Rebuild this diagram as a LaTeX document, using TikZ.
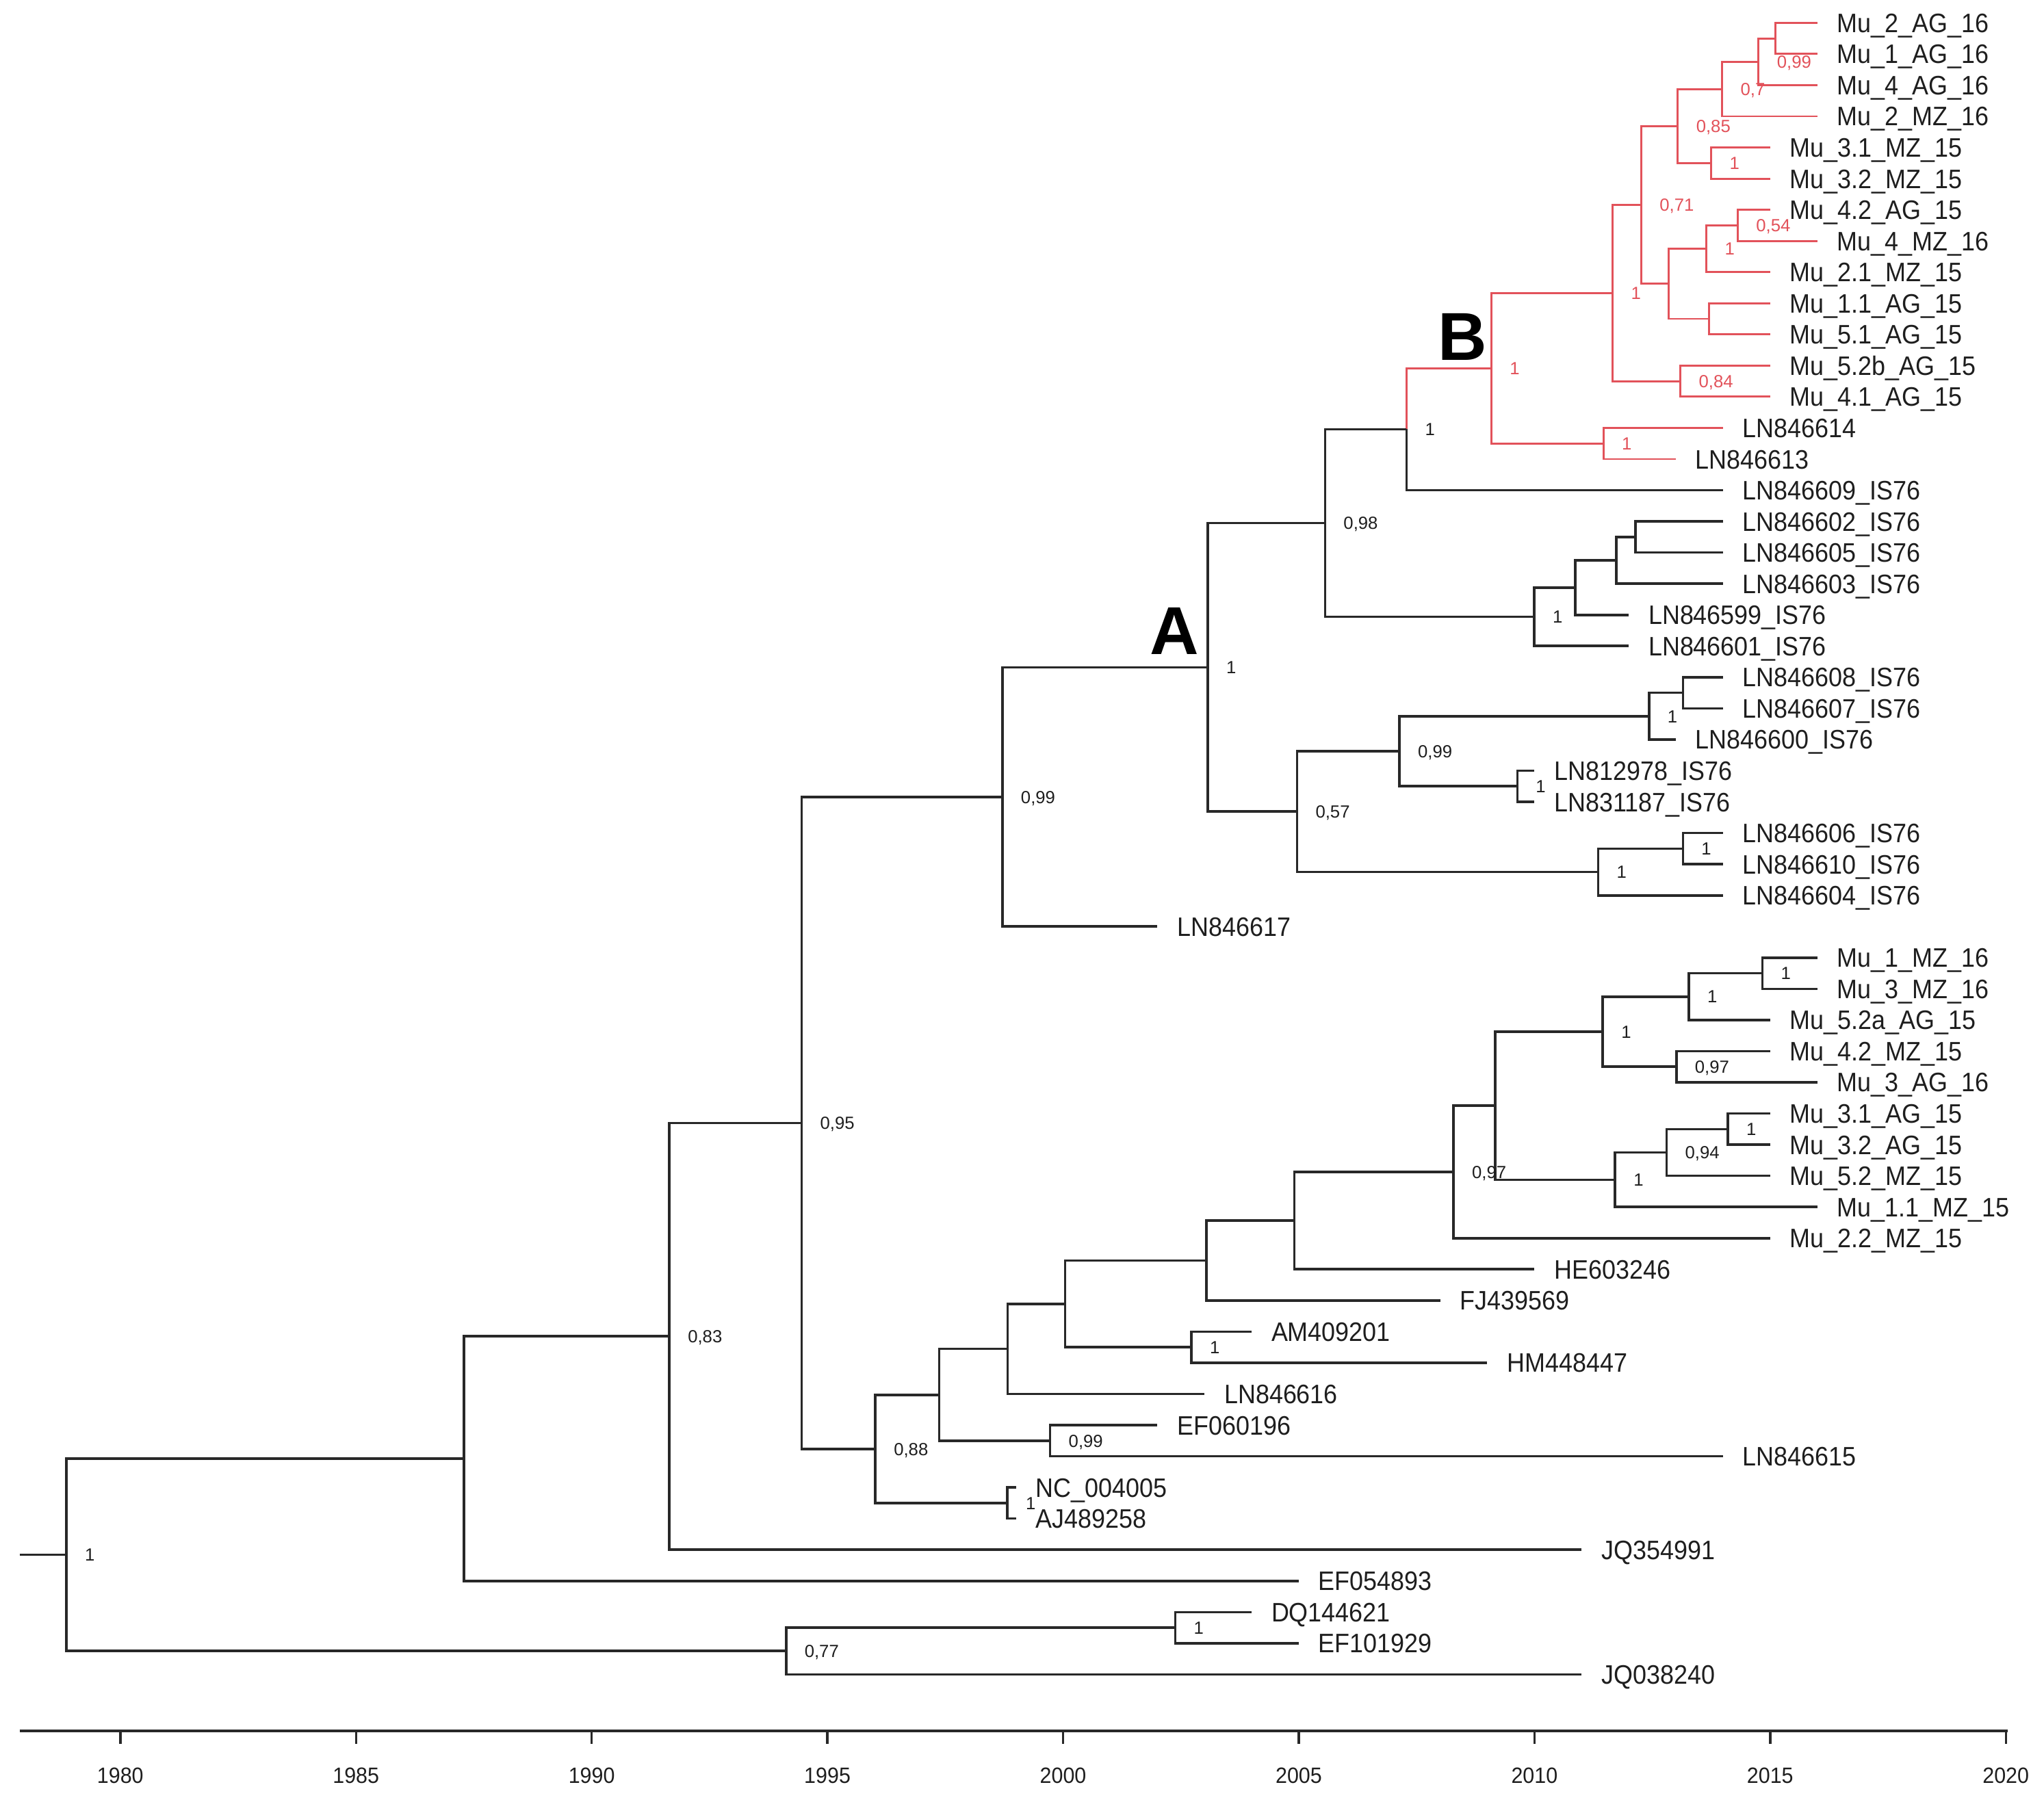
\documentclass[tikz,border=0pt]{standalone}
\usepackage{fontspec}
\setmainfont{Liberation Sans}
\newfontfamily\labfont{Liberation Sans}[FakeStretch=0.92]
\newfontfamily\yearfont{Liberation Sans}[FakeStretch=0.94]
\usetikzlibrary{calc}
\definecolor{redc}{RGB}{226,82,90}
\definecolor{txt}{RGB}{30,30,30}
\definecolor{lin}{RGB}{40,40,40}
\newcommand\yr[1]{92.3+36.16*(#1-1980)}
\newcommand\ry[1]{17.5+23.91*#1}
\newcommand\inode[4]{\path let \p1=($(#3)!0.5!(#4)$) in coordinate (#1) at (#2pt,\y1);}
\begin{document}
\begin{tikzpicture}[x=1pt,y=-1pt,
  edge/.style={draw=lin,line width=1.9pt},
  redge/.style={draw=redc,line width=1.5pt},
  tiplab/.style={anchor=west,inner sep=0pt,xshift=15pt,text height=14.7pt,text depth=0pt,font=\labfont\fontsize{20.5}{21}\selectfont,text=txt},
  suplab/.style={anchor=west,inner sep=0pt,xshift=14pt,text height=9.7pt,text depth=0pt,font=\fontsize{13.5}{14}\selectfont,text=txt},
  rsuplab/.style={suplab,text=redc},
  biglab/.style={anchor=base,inner sep=0pt,font=\fontsize{52}{52}\selectfont\bfseries,text=black},
  yearlab/.style={anchor=center,inner sep=0pt,text height=12.2pt,text depth=0pt,font=\yearfont\fontsize{17}{18}\selectfont,text=txt},
  axisline/.style={draw=lin,line width=2.4pt},
  tickline/.style={draw=lin,line width=1.8pt}]
\useasboundingbox (0,0) rectangle (1568,1381);
% ---------- tips ----------
\coordinate (t0) at ({\yr{2016}},{\ry{0}});   \node[tiplab] (l0) at (t0) {Mu\_2\_AG\_16};
\coordinate (t1) at ({\yr{2016}},{\ry{1}});   \node[tiplab] (l1) at (t1) {Mu\_1\_AG\_16};
\coordinate (t2) at ({\yr{2016}},{\ry{2}});   \node[tiplab] (l2) at (t2) {Mu\_4\_AG\_16};
\coordinate (t3) at ({\yr{2016}},{\ry{3}});   \node[tiplab] (l3) at (t3) {Mu\_2\_MZ\_16};
\coordinate (t4) at ({\yr{2015}},{\ry{4}});   \node[tiplab] (l4) at (t4) {Mu\_3.1\_MZ\_15};
\coordinate (t5) at ({\yr{2015}},{\ry{5}});   \node[tiplab] (l5) at (t5) {Mu\_3.2\_MZ\_15};
\coordinate (t6) at ({\yr{2015}},{\ry{6}});   \node[tiplab] (l6) at (t6) {Mu\_4.2\_AG\_15};
\coordinate (t7) at ({\yr{2016}},{\ry{7}});   \node[tiplab] (l7) at (t7) {Mu\_4\_MZ\_16};
\coordinate (t8) at ({\yr{2015}},{\ry{8}});   \node[tiplab] (l8) at (t8) {Mu\_2.1\_MZ\_15};
\coordinate (t9) at ({\yr{2015}},{\ry{9}});   \node[tiplab] (l9) at (t9) {Mu\_1.1\_AG\_15};
\coordinate (t10) at ({\yr{2015}},{\ry{10}}); \node[tiplab] (l10) at (t10) {Mu\_5.1\_AG\_15};
\coordinate (t11) at ({\yr{2015}},{\ry{11}}); \node[tiplab] (l11) at (t11) {Mu\_5.2b\_AG\_15};
\coordinate (t12) at ({\yr{2015}},{\ry{12}}); \node[tiplab] (l12) at (t12) {Mu\_4.1\_AG\_15};
\coordinate (t13) at ({\yr{2014}},{\ry{13}}); \node[tiplab] (l13) at (t13) {LN846614};
\coordinate (t14) at ({\yr{2013}},{\ry{14}}); \node[tiplab] (l14) at (t14) {LN846613};
\coordinate (t15) at ({\yr{2014}},{\ry{15}}); \node[tiplab] (l15) at (t15) {LN846609\_IS76};
\coordinate (t16) at ({\yr{2014}},{\ry{16}}); \node[tiplab] (l16) at (t16) {LN846602\_IS76};
\coordinate (t17) at ({\yr{2014}},{\ry{17}}); \node[tiplab] (l17) at (t17) {LN846605\_IS76};
\coordinate (t18) at ({\yr{2014}},{\ry{18}}); \node[tiplab] (l18) at (t18) {LN846603\_IS76};
\coordinate (t19) at ({\yr{2012}},{\ry{19}}); \node[tiplab] (l19) at (t19) {LN846599\_IS76};
\coordinate (t20) at ({\yr{2012}},{\ry{20}}); \node[tiplab] (l20) at (t20) {LN846601\_IS76};
\coordinate (t21) at ({\yr{2014}},{\ry{21}}); \node[tiplab] (l21) at (t21) {LN846608\_IS76};
\coordinate (t22) at ({\yr{2014}},{\ry{22}}); \node[tiplab] (l22) at (t22) {LN846607\_IS76};
\coordinate (t23) at ({\yr{2013}},{\ry{23}}); \node[tiplab] (l23) at (t23) {LN846600\_IS76};
\coordinate (t24) at ({\yr{2010}},{\ry{24}}); \node[tiplab] (l24) at (t24) {LN812978\_IS76};
\coordinate (t25) at ({\yr{2010}},{\ry{25}}); \node[tiplab] (l25) at (t25) {LN831187\_IS76};
\coordinate (t26) at ({\yr{2014}},{\ry{26}}); \node[tiplab] (l26) at (t26) {LN846606\_IS76};
\coordinate (t27) at ({\yr{2014}},{\ry{27}}); \node[tiplab] (l27) at (t27) {LN846610\_IS76};
\coordinate (t28) at ({\yr{2014}},{\ry{28}}); \node[tiplab] (l28) at (t28) {LN846604\_IS76};
\coordinate (t29) at ({\yr{2002}},{\ry{29}}); \node[tiplab] (l29) at (t29) {LN846617};
\coordinate (t30) at ({\yr{2016}},{\ry{30}}); \node[tiplab] (l30) at (t30) {Mu\_1\_MZ\_16};
\coordinate (t31) at ({\yr{2016}},{\ry{31}}); \node[tiplab] (l31) at (t31) {Mu\_3\_MZ\_16};
\coordinate (t32) at ({\yr{2015}},{\ry{32}}); \node[tiplab] (l32) at (t32) {Mu\_5.2a\_AG\_15};
\coordinate (t33) at ({\yr{2015}},{\ry{33}}); \node[tiplab] (l33) at (t33) {Mu\_4.2\_MZ\_15};
\coordinate (t34) at ({\yr{2016}},{\ry{34}}); \node[tiplab] (l34) at (t34) {Mu\_3\_AG\_16};
\coordinate (t35) at ({\yr{2015}},{\ry{35}}); \node[tiplab] (l35) at (t35) {Mu\_3.1\_AG\_15};
\coordinate (t36) at ({\yr{2015}},{\ry{36}}); \node[tiplab] (l36) at (t36) {Mu\_3.2\_AG\_15};
\coordinate (t37) at ({\yr{2015}},{\ry{37}}); \node[tiplab] (l37) at (t37) {Mu\_5.2\_MZ\_15};
\coordinate (t38) at ({\yr{2016}},{\ry{38}}); \node[tiplab] (l38) at (t38) {Mu\_1.1\_MZ\_15};
\coordinate (t39) at ({\yr{2015}},{\ry{39}}); \node[tiplab] (l39) at (t39) {Mu\_2.2\_MZ\_15};
\coordinate (t40) at ({\yr{2010}},{\ry{40}}); \node[tiplab] (l40) at (t40) {HE603246};
\coordinate (t41) at ({\yr{2008}},{\ry{41}}); \node[tiplab] (l41) at (t41) {FJ439569};
\coordinate (t42) at ({\yr{2004}},{\ry{42}}); \node[tiplab] (l42) at (t42) {AM409201};
\coordinate (t43) at ({\yr{2009}},{\ry{43}}); \node[tiplab] (l43) at (t43) {HM448447};
\coordinate (t44) at ({\yr{2003}},{\ry{44}}); \node[tiplab] (l44) at (t44) {LN846616};
\coordinate (t45) at ({\yr{2002}},{\ry{45}}); \node[tiplab] (l45) at (t45) {EF060196};
\coordinate (t46) at ({\yr{2014}},{\ry{46}}); \node[tiplab] (l46) at (t46) {LN846615};
\coordinate (t47) at ({\yr{1999}},{\ry{47}}); \node[tiplab] (l47) at (t47) {NC\_004005};
\coordinate (t48) at ({\yr{1999}},{\ry{48}}); \node[tiplab] (l48) at (t48) {AJ489258};
\coordinate (t49) at ({\yr{2011}},{\ry{49}}); \node[tiplab] (l49) at (t49) {JQ354991};
\coordinate (t50) at ({\yr{2005}},{\ry{50}}); \node[tiplab] (l50) at (t50) {EF054893};
\coordinate (t51) at ({\yr{2004}},{\ry{51}}); \node[tiplab] (l51) at (t51) {DQ144621};
\coordinate (t52) at ({\yr{2005}},{\ry{52}}); \node[tiplab] (l52) at (t52) {EF101929};
\coordinate (t53) at ({\yr{2011}},{\ry{53}}); \node[tiplab] (l53) at (t53) {JQ038240};
% ---------- internal nodes ----------
\inode{n1}{1362}{t0}{t1}
\inode{n2}{1349}{n1}{t2}
\inode{n3}{1321}{n2}{t3}
\inode{n4}{1312.6}{t4}{t5}
\inode{n5}{1287}{n3}{n4}
\inode{n6}{1333}{t6}{t7}
\inode{n7}{1309}{n6}{t8}
\inode{n8}{1311}{t9}{t10}
\inode{n9}{1280}{n7}{n8}
\inode{n10}{1259}{n5}{n9}
\inode{n11}{1289}{t11}{t12}
\inode{n12}{1237}{n10}{n11}
\inode{n13}{1230}{t13}{t14}
\inode{nB}{1144}{n12}{n13}
\inode{n14}{1079}{nB}{t15}
\inode{n15}{1254.6}{t16}{t17}
\inode{n16}{1240}{n15}{t18}
\inode{n17}{1208.5}{n16}{t19}
\inode{n18}{1177}{n17}{t20}
\inode{n19}{1016.5}{n14}{n18}
\inode{n20}{1291}{t21}{t22}
\inode{n21}{1265}{n20}{t23}
\inode{n22}{1164}{t24}{t25}
\inode{n23}{1073.5}{n21}{n22}
\inode{n24}{1291}{t26}{t27}
\inode{n25}{1226}{n24}{t28}
\inode{n26}{995}{n23}{n25}
\inode{nA}{926.5}{n19}{n26}
\inode{n27}{769}{nA}{t29}
\inode{n28}{1352}{t30}{t31}
\inode{n29}{1295.6}{n28}{t32}
\inode{n30}{1286}{t33}{t34}
\inode{n31}{1229.5}{n29}{n30}
\inode{n32}{1325.5}{t35}{t36}
\inode{n33}{1278.5}{n32}{t37}
\inode{n34}{1239}{n33}{t38}
\inode{n35}{1147}{n31}{n34}
\inode{n36}{1115}{n35}{t39}
\inode{n37}{993}{n36}{t40}
\inode{n38}{925.5}{n37}{t41}
\inode{n39}{914}{t42}{t43}
\inode{n40}{817}{n38}{n39}
\inode{n41}{773}{n40}{t44}
\inode{n42}{805.6}{t45}{t46}
\inode{n43}{720.5}{n41}{n42}
\inode{n44}{772.8}{t47}{t48}
\inode{n45}{671.5}{n43}{n44}
\inode{n46}{615}{n27}{n45}
\inode{n47}{513.5}{n46}{t49}
\inode{n48}{356}{n47}{t50}
\inode{n49}{901.6}{t51}{t52}
\inode{n50}{603}{n49}{t53}
\inode{root}{51}{n48}{n50}
\path let \p1=(root) in coordinate (r0) at (15pt,\y1);
% ---------- branches ----------
\draw[redge] (n1) |- (t0) (n1) |- (t1) (n2) |- (n1) (n2) |- (t2)
  (n3) |- (n2) (n3) |- (t3) (n4) |- (t4) (n4) |- (t5)
  (n5) |- (n3) (n5) |- (n4) (n6) |- (t6) (n6) |- (t7)
  (n7) |- (n6) (n7) |- (t8) (n8) |- (t9) (n8) |- (t10)
  (n9) |- (n7) (n9) |- (n8) (n10) |- (n5) (n10) |- (n9)
  (n11) |- (t11) (n11) |- (t12) (n12) |- (n10) (n12) |- (n11)
  (n13) |- (t13) (n13) |- (t14) (nB) |- (n12) (nB) |- (n13)
  (n14) |- (nB);
\draw[edge] (n14) |- (t15)
  (n15) |- (t16) (n15) |- (t17) (n16) |- (n15) (n16) |- (t18)
  (n17) |- (n16) (n17) |- (t19) (n18) |- (n17) (n18) |- (t20)
  (n19) |- (n14) (n19) |- (n18)
  (n20) |- (t21) (n20) |- (t22) (n21) |- (n20) (n21) |- (t23)
  (n22) |- (t24) (n22) |- (t25) (n23) |- (n21) (n23) |- (n22)
  (n24) |- (t26) (n24) |- (t27) (n25) |- (n24) (n25) |- (t28)
  (n26) |- (n23) (n26) |- (n25) (nA) |- (n19) (nA) |- (n26)
  (n27) |- (nA) (n27) |- (t29)
  (n28) |- (t30) (n28) |- (t31) (n29) |- (n28) (n29) |- (t32)
  (n30) |- (t33) (n30) |- (t34) (n31) |- (n29) (n31) |- (n30)
  (n32) |- (t35) (n32) |- (t36) (n33) |- (n32) (n33) |- (t37)
  (n34) |- (n33) (n34) |- (t38) (n35) |- (n31) (n35) |- (n34)
  (n36) |- (n35) (n36) |- (t39) (n37) |- (n36) (n37) |- (t40)
  (n38) |- (n37) (n38) |- (t41) (n39) |- (t42) (n39) |- (t43)
  (n40) |- (n38) (n40) |- (n39) (n41) |- (n40) (n41) |- (t44)
  (n42) |- (t45) (n42) |- (t46) (n43) |- (n41) (n43) |- (n42)
  (n44) |- (t47) (n44) |- (t48) (n45) |- (n43) (n45) |- (n44)
  (n46) |- (n27) (n46) |- (n45) (n47) |- (n46) (n47) |- (t49)
  (n48) |- (n47) (n48) |- (t50) (n49) |- (t51) (n49) |- (t52)
  (n50) |- (n49) (n50) |- (t53) (root) |- (n48) (root) |- (n50)
  (r0) -- (root);
% ---------- support values ----------
\node[rsuplab] (s2) at (n2) {0,99};
\node[rsuplab] (s3) at (n3) {0,7};
\node[rsuplab] (s4) at (n4) {1};
\node[rsuplab] (s5) at (n5) {0,85};
\node[rsuplab] (s6) at (n6) {0,54};
\node[rsuplab] (s7) at (n7) {1};
\node[rsuplab] (s10) at (n10) {0,71};
\node[rsuplab] (s11) at (n11) {0,84};
\node[rsuplab] (s12) at (n12) {1};
\node[rsuplab] (s13) at (n13) {1};
\node[rsuplab] (sB) at (nB) {1};
\node[suplab] (s14) at (n14) {1};
\node[suplab] (s18) at (n18) {1};
\node[suplab] (s19) at (n19) {0,98};
\node[suplab] (s21) at (n21) {1};
\node[suplab] (s22) at (n22) {1};
\node[suplab] (s23) at (n23) {0,99};
\node[suplab] (s24) at (n24) {1};
\node[suplab] (s25) at (n25) {1};
\node[suplab] (s26) at (n26) {0,57};
\node[suplab] (sA) at (nA) {1};
\node[suplab] (s27) at (n27) {0,99};
\node[suplab] (s28) at (n28) {1};
\node[suplab] (s29) at (n29) {1};
\node[suplab] (s30) at (n30) {0,97};
\node[suplab] (s31) at (n31) {1};
\node[suplab] (s32) at (n32) {1};
\node[suplab] (s33) at (n33) {0,94};
\node[suplab] (s34) at (n34) {1};
\node[suplab] (s36) at (n36) {0,97};
\node[suplab] (s39) at (n39) {1};
\node[suplab] (s42) at (n42) {0,99};
\node[suplab] (s44) at (n44) {1};
\node[suplab] (s45) at (n45) {0,88};
\node[suplab] (s46) at (n46) {0,95};
\node[suplab] (s47) at (n47) {0,83};
\node[suplab] (s49) at (n49) {1};
\node[suplab] (s50) at (n50) {0,77};
\node[suplab] (sroot) at (root) {1};
% ---------- clade letters ----------
\node[biglab] (labA) at (901,502) {A};
\node[biglab] (labB) at (1122,276.5) {B};
% ---------- time axis ----------
\coordinate (ax0) at (15,1328);
\coordinate (ax1) at (1540,1328);
\draw[axisline] (ax0) -- (ax1);
\foreach \yy in {1980,1985,...,2020}{
  \coordinate (tk\yy) at ({\yr{\yy}},1328);
  \coordinate (tb\yy) at ({\yr{\yy}},1338);
  \draw[tickline] (tk\yy) -- (tb\yy);
  \node[yearlab] (yl\yy) at ({\yr{\yy}},1362) {\yy};
}
\end{tikzpicture}
\end{document}
